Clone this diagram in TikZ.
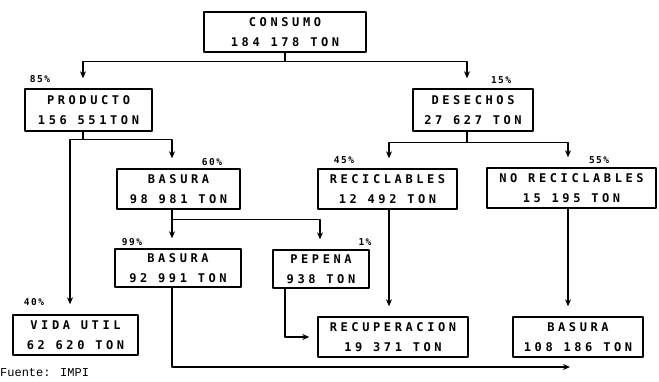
\documentclass[tikz,border=0pt]{standalone}
\usepackage{fontspec}
\usetikzlibrary{arrows.meta}
\newfontfamily\boxfont[LetterSpace=30]{DejaVu Sans Mono Bold}
\newfontfamily\pctfont[LetterSpace=15]{DejaVu Sans Mono Bold}
\newfontfamily\srcfont{Liberation Mono}
\begin{document}
\begin{tikzpicture}[x=1pt,y=-1pt,>={Stealth[length=7pt,width=6pt]},line join=round,
	caja/.style={draw,line width=1.4pt,inner sep=0pt,minimum height=40,align=center,font=\fontsize{12}{19.5}\boxfont},
	flujo/.style={->,line width=1.3pt,shorten >=10pt},
	pct/.style={inner sep=0pt,font=\fontsize{9.5}{10}\pctfont}]
	\useasboundingbox (0,0) rectangle (659,381);
	% cajas
	\node[caja,minimum width=162] (consumo) at (285,32) {CONSUMO\\184 178 TON};
	\node[caja,minimum width=127,minimum height=42] (producto) at (88.5,110) {PRODUCTO\\156 551TON};
	\node[caja,minimum width=120,minimum height=42] (desechos) at (473,110) {DESECHOS\\27 627 TON};
	\node[caja,minimum width=123] (basuraA) at (178.5,189) {BASURA\\98 981 TON};
	\node[caja,minimum width=139] (reciclables) at (387.5,189) {RECICLABLES\\12 492 TON};
	\node[caja,minimum width=169] (noreciclables) at (571.5,188) {NO RECICLABLES\\15 195 TON};
	\node[caja,minimum width=126,minimum height=38] (basuraB) at (178,268) {BASURA\\92 991 TON};
	\node[caja,minimum width=96,minimum height=38] (pepena) at (321,269) {PEPENA\\938 TON};
	\node[caja,minimum width=125] (vidautil) at (75.5,335) {VIDA UTIL\\62 620 TON};
	\node[caja,minimum width=150] (recuperacion) at (393,337) {RECUPERACION\\19 371 TON};
	\node[caja,minimum width=130] (basuraC) at (578,337) {BASURA\\108 186 TON};
	% porcentajes
	\node[pct] (p85) at (40,79) {85\%};
	\node[pct] (p15) at (501,80) {15\%};
	\node[pct] (p60) at (212,162) {60\%};
	\node[pct] (p45) at (344,160) {45\%};
	\node[pct] (p55) at (599,160) {55\%};
	\node[pct] (p99) at (132,242) {99\%};
	\node[pct] (p1) at (365,242) {1\%};
	\node[pct] (p40) at (34,302) {40\%};
	\node[font=\fontsize{12}{14}\srcfont,anchor=west,inner sep=0pt] (fuente) at (0,373) {Fuente: IMPI};
	% flechas
	\draw[flujo] (consumo.south) -- ++(0,9) -| ([xshift=-5.5]producto.north);
	\draw[flujo] (consumo.south) -- ++(0,9) -| ([xshift=-6]desechos.north);
	\draw[flujo] ([xshift=-5.5]producto.south) -- ++(0,8) -| ([xshift=-5.5]vidautil.north);
	\draw[flujo] ([xshift=-5.5]producto.south) -- ++(0,8) -| ([xshift=-6.5]basuraA.north);
	\draw[flujo] ([xshift=-6]desechos.south) -- ++(0,11) -| ([xshift=1.5]reciclables.north);
	\draw[flujo] ([xshift=-6]desechos.south) -- ++(0,11) -| ([xshift=-3.5]noreciclables.north);
	\draw[flujo] ([xshift=-6.5]basuraA.south) -- ++(0,10) -| ([xshift=-6]basuraB.north);
	\draw[flujo] ([xshift=-6.5]basuraA.south) -- ++(0,10) -| ([xshift=-1]pepena.north);
	\draw[flujo] ([xshift=1.5]reciclables.south) -- ([xshift=-4]recuperacion.north);
	\draw[flujo] ([xshift=-3.5]noreciclables.south) -- ([xshift=-10]basuraC.north);
	\draw[flujo,shorten >=8pt] ([xshift=-36]pepena.south) |- (recuperacion.west);
	\coordinate (fin) at (570,367);
	\draw[flujo,shorten >=0pt] ([xshift=-6]basuraB.south) |- (fin);
\end{tikzpicture}
\end{document}
